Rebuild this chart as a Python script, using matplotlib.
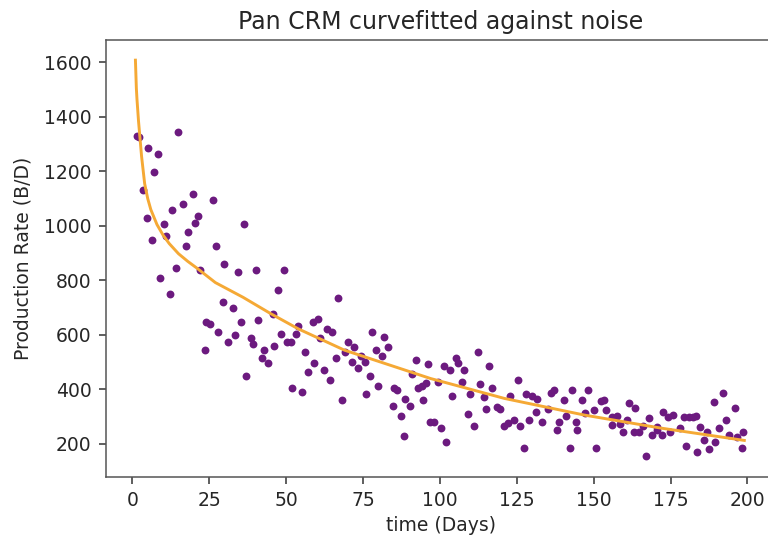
import matplotlib
matplotlib.use("Agg")
import matplotlib.pyplot as plt

# observed (noisy) production data: day, rate (B/D)
obs_days = [
    1.4, 2.3, 3.4, 4.7, 5.2, 6.5, 7.2, 8.5, 9.1, 10.4, 11.1, 12.3, 13.0, 14.3, 15.0,
    16.4, 17.6, 18.1, 19.6, 20.3, 21.5, 22.0, 23.5, 24.0, 25.3, 26.1, 27.2, 28.0, 29.4,
    29.9, 31.2, 32.6, 33.3, 34.5, 35.2, 36.3, 37.0, 38.5, 39.2, 40.2, 41.0, 42.2, 42.9,
    44.0, 45.7,
    47.5, 49.3, 66.8, 58.7, 60.5, 54.0, 63.2, 64.8, 48.3, 53.2, 78.0, 81.9, 50.2, 51.5,
    61.0, 70.0, 72.2, 46.2, 83.2, 79.3, 56.0, 69.0, 74.4, 81.3, 66.2, 71.4, 75.5, 59.2,
    92.3, 96.3, 73.3, 62.4, 57.2, 91.0, 77.3, 64.3, 79.8, 95.5, 94.2, 93.0, 51.9, 55.2,
    76.0, 85.1, 86.2, 88.8, 90.3, 68.3, 94.4, 84.6, 87.2, 88.4, 96.8,
    101.4, 103.3, 105.3, 106.0, 107.9, 112.5, 116.1, 125.3, 99.5, 107.1, 113.1, 116.9,
    104.0, 109.8, 114.5, 122.8, 128.0, 129.9, 131.7, 136.0, 137.1, 142.9, 140.4, 146.3,
    148.3, 115.0, 118.5, 119.6, 109.3, 135.1, 131.3, 141.0, 147.2, 98.1, 100.3, 111.1,
    120.7, 122.3, 124.1, 126.1, 129.1, 133.1, 138.9, 138.2, 144.2, 144.7, 102.0, 127.4,
    142.3,
    152.3, 153.4, 161.6, 163.5, 189.0, 192.2, 196.0, 150.0, 154.0, 172.6, 174.3, 175.9,
    179.4, 181.1, 182.4, 183.3, 155.9, 157.6, 160.9, 168.1, 193.0, 156.1, 158.6, 166.2,
    170.5, 178.1, 184.6, 190.9, 159.7, 163.2, 164.9, 168.9, 170.7, 172.1, 174.8, 186.8,
    194.1, 196.5, 198.7, 186.0, 189.5, 180.0, 183.7, 187.6, 198.2, 150.7, 167.1,
]
obs_rates = [
    1330, 1325, 1132, 1029, 1287, 948, 1198, 1264, 810, 1008, 964, 750, 1059, 845, 1345,
    1081, 926, 979, 1118, 1009, 1037, 838, 545, 647, 640, 1095, 927, 611, 721,
    861, 574, 700, 599, 832, 647, 1008, 449, 590, 568, 839, 655, 515, 545,
    496, 677,
    765, 840, 737, 649, 657, 634, 622, 612, 603, 603, 611, 591, 574, 574,
    590, 574, 554, 560, 554, 545, 536, 536, 524, 524, 514, 502, 502, 496,
    508, 493, 477, 471, 463, 457, 449, 435, 414, 422, 414, 404, 404, 391,
    384, 404, 398, 364, 339, 361, 361, 339, 302, 229, 282,
    486, 471, 514, 496, 471, 538, 486, 435, 428, 428, 420, 406,
    377, 383, 371, 376, 383, 376, 364, 386, 398, 398, 361, 361,
    398, 327, 337, 327, 309, 327, 318, 302, 315, 282, 260, 267,
    267, 276, 288, 267, 288, 282, 282, 251, 282, 251, 206, 186,
    186,
    359, 361, 349, 331, 355, 386, 331, 324, 324, 318, 298, 306,
    300, 300, 298, 302, 298, 302, 288, 294, 288, 270, 273, 266,
    261, 257, 263, 257, 245, 245, 245, 233, 251, 233, 245, 245,
    233, 224, 245, 214, 208, 194, 172, 181, 184, 186, 157,
]

# fitted Pan CRM curve
fit_days = [1, 1.3, 1.5, 2, 3, 4, 5, 6, 8, 10, 12, 15, 18, 21, 27, 36, 45, 54,
            69, 97, 121, 147, 172, 199]
fit_rates = [1608, 1505, 1465, 1385, 1255, 1155, 1100, 1060, 1005, 966, 935, 898,
             870, 845, 792, 738, 678, 622, 544, 440, 367, 306, 258, 213]

title = "Pan CRM curvefitted against noise"
xlabel = "time (Days)"
ylabel = "Production Rate (B/D)"

fig = plt.figure(figsize=(7.68, 5.41), dpi=100)
ax = fig.add_axes([0.1383, 0.1189, 0.8709, 0.8072])

ax.scatter(obs_days, obs_rates, s=32, color="#6c1a7f", zorder=2, linewidths=0)
ax.plot(fit_days, fit_rates, color="#f5a935", lw=2.1, zorder=3)

ax.set_xlim(-8.5, 209)
ax.set_ylim(80, 1682)
ax.set_xticks([0, 25, 50, 75, 100, 125, 150, 175, 200])
ax.set_yticks([200, 400, 600, 800, 1000, 1200, 1400, 1600])
ax.tick_params(labelsize=13.5, length=5, width=1.1, pad=5.5,
               colors="#333333", labelcolor="#262626")
ax.spines["right"].set_visible(False)
for s in ax.spines.values():
    s.set_linewidth(1.1)
    s.set_color("#555555")

ax.set_title(title, fontsize=17, pad=8, color="#262626")
ax.set_xlabel(xlabel, fontsize=13.5, color="#262626", labelpad=4)
ax.set_ylabel(ylabel, fontsize=13.5, color="#262626", labelpad=8)

fig.savefig("out.png", dpi=100)
